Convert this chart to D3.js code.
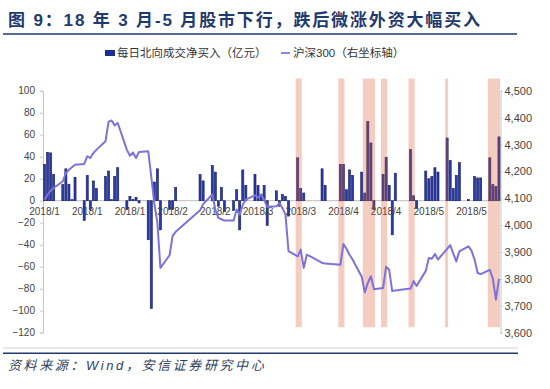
<!DOCTYPE html>
<html>
<head>
<meta charset="utf-8">
<script src="https://cdn.jsdelivr.net/npm/d3@7"></script>
<style>
body { margin: 0; background: #fff; }
svg { display: block; font-family: "Liberation Sans", "Noto Sans CJK SC", sans-serif; }
</style>
</head>
<body>
<svg id="chart" width="550" height="389"></svg>
<script>
// trading days (A-share), northbound net buy (亿元, null = connect closed), HS300 close
var dates = [
  "2018-01-02","2018-01-03","2018-01-04","2018-01-05","2018-01-08","2018-01-09","2018-01-10","2018-01-11","2018-01-12",
  "2018-01-15","2018-01-16","2018-01-17","2018-01-18","2018-01-19","2018-01-22","2018-01-23","2018-01-24","2018-01-25","2018-01-26",
  "2018-01-29","2018-01-30","2018-01-31","2018-02-01","2018-02-02","2018-02-05","2018-02-06","2018-02-07","2018-02-08","2018-02-09",
  "2018-02-12","2018-02-13","2018-02-14","2018-02-22","2018-02-23","2018-02-26","2018-02-27","2018-02-28","2018-03-01","2018-03-02",
  "2018-03-05","2018-03-06","2018-03-07","2018-03-08","2018-03-09","2018-03-12","2018-03-13","2018-03-14","2018-03-15","2018-03-16",
  "2018-03-19","2018-03-20","2018-03-21","2018-03-22","2018-03-23","2018-03-26","2018-03-27","2018-03-28","2018-03-29","2018-03-30",
  "2018-04-02","2018-04-03","2018-04-04","2018-04-09","2018-04-10","2018-04-11","2018-04-12","2018-04-13",
  "2018-04-16","2018-04-17","2018-04-18","2018-04-19","2018-04-20","2018-04-23","2018-04-24","2018-04-25","2018-04-26","2018-04-27",
  "2018-05-02","2018-05-03","2018-05-04","2018-05-07","2018-05-08","2018-05-09","2018-05-10","2018-05-11",
  "2018-05-14","2018-05-15","2018-05-16","2018-05-17","2018-05-18","2018-05-21","2018-05-22","2018-05-23","2018-05-24","2018-05-25",
  "2018-05-28","2018-05-29","2018-05-30","2018-05-31"
];
var northbound = [
  33, 44, 43.5, 23.7, 14.6, 29, 15, 1, 21.3,
  -18, 23, -8, 18, 11, 22, 27, 1, 22, 30,
  -8, 4, 1, 3, -2, -35.5, -98, 17, 29, -26.5,
  -8, -8, 12, 23.7, 18, 32, 26, -5, 12, -10,
  -9, 10, -26.5, 28, 14, 24, 14, 6, 14, -22.5,
  9, -5, 5.5, 4, -14, 39, 11, 7, 0, null,
  null, 29, 14, 33, 33, 10, 28, 23,
  26, 7, 72, 52.5, -8, 24, 39.5, 14, -31, 25,
  46.5, 4.5, -7, 27, 20, 22, 30, 26,
  57, 36.5, 11, 23, 34.6, 1, null, 22, 20.7, 20.7,
  39, 14.6, 13, 58
];
var hs300 = [
  4095, 4113, 4128, 4138, 4163, 4194, 4206, 4215, 4225,
  4227, 4256, 4250, 4268, 4280, 4312, 4385, 4389, 4371, 4380,
  4280, 4258, 4270, 4250, 4272, 4275, 4180, 4080, 4010, 3841,
  3888, 3960, 3975, 4055, 4078, 4114, 4058, 4027, 4022, 4017,
  4017, 4058, 4039, 4076, 4095, 4111, 4103, 4112, 4095, 4068,
  4070, 4082, 4064, 4039, 3903, 3884, 3909, 3841, 3890, 3885,
  3866, 3860, 3857, 3853, 3930, 3912, 3890, 3872,
  3808, 3750, 3785, 3810, 3762, 3766, 3845, 3834, 3755, 3757,
  3764, 3792, 3774, 3830, 3878, 3875, 3893, 3872,
  3912, 3926, 3895, 3865, 3902, 3921, 3905, 3872, 3822, 3818,
  3834, 3800, 3723, 3800
];
var tickDates = ["2018-01-02","2018-01-16","2018-01-30","2018-02-13","2018-02-27","2018-03-13",
                 "2018-03-27","2018-04-10","2018-04-24","2018-05-08","2018-05-22"];
var tickLabels = ["2018/1","2018/1","2018/1","2018/2","2018/2","2018/3","2018/3","2018/4","2018/4","2018/5","2018/5"];
var leftTicks = [100, 80, 60, 40, 20, 0, -20, -40, -60, -80, -100, -120];
var rightTicks = [4500, 4400, 4300, 4200, 4100, 4000, 3900, 3800, 3700, 3600];
var bandStarts = ["2018-03-26","2018-04-09","2018-04-17","2018-04-23","2018-05-02","2018-05-14","2018-05-28"];
var bandEnds   = ["2018-03-27","2018-04-10","2018-04-20","2018-04-24","2018-05-03","2018-05-14","2018-05-31"];

var parse = d3.timeParse("%Y-%m-%d");
var svg = d3.select("#chart");

var plotLeft = 43, plotRight = 500.5, plotTop = 90.7, plotBottom = 332.7;

var x = d3.scaleTime()
  .domain([parse("2018-01-02"), parse("2018-06-01")])
  .range([plotLeft, plotRight]);
var step = x(parse("2018-01-03")) - x(parse("2018-01-02"));
var yL = d3.scaleLinear().domain([-120, 100]).range([plotBottom, plotTop]);
var yR = d3.scaleLinear().domain([3600, 4500]).range([plotBottom, plotTop]);

var rows = dates.map(function(d, i) {
  return { date: parse(d), nb: northbound[i], hs: hs300[i] };
});

// title
svg.append("text")
  .attr("x", 8).attr("y", 20)
  .attr("dominant-baseline", "central")
  .attr("font-size", 17).attr("font-weight", "bold")
  .attr("letter-spacing", 1.85)
  .attr("fill", "#1f3a6e")
  .text("图 9：18 年 3 月-5 月股市下行，跌后微涨外资大幅买入");
svg.append("line")
  .attr("x1", 3).attr("x2", 517).attr("y1", 34).attr("y2", 34)
  .attr("stroke", "#1f3a6e").attr("stroke-width", 1.6);

// legend
svg.append("rect").attr("x", 105).attr("y", 50).attr("width", 10).attr("height", 6).attr("fill", "#1f2d91");
svg.append("text").attr("x", 117).attr("y", 53).attr("dominant-baseline", "central")
  .attr("font-size", 11.5).attr("fill", "#333").text("每日北向成交净买入（亿元）");
svg.append("line").attr("x1", 281).attr("x2", 290).attr("y1", 53).attr("y2", 53)
  .attr("stroke", "#8f86e0").attr("stroke-width", 2);
svg.append("text").attr("x", 293).attr("y", 53).attr("dominant-baseline", "central")
  .attr("font-size", 11.5).attr("fill", "#333").text("沪深300（右坐标轴）");

// axes
var axL = svg.append("g").attr("transform", "translate(" + plotLeft + ",0)")
  .call(d3.axisLeft(yL).tickValues(leftTicks).tickSize(3).tickPadding(5));
var axR = svg.append("g").attr("transform", "translate(" + plotRight + ",0)")
  .call(d3.axisRight(yR).tickValues(rightTicks).tickSize(2).tickPadding(2).tickFormat(d3.format(",")));
[axL, axR].forEach(function(g) {
  g.select(".domain").attr("stroke", "#c8c8c8");
  g.selectAll(".tick line").attr("stroke", "#c8c8c8");
  g.selectAll(".tick text").attr("fill", "#444").attr("font-family", "Liberation Sans, sans-serif");
});
axL.selectAll(".tick text").attr("font-size", 10);
axR.selectAll(".tick text").attr("font-size", 11);

// zero line
svg.append("line")
  .attr("x1", plotLeft).attr("x2", plotRight).attr("y1", yL(0)).attr("y2", yL(0))
  .attr("stroke", "#bdbdbd").attr("stroke-width", 1);

// bars
var bw = step * 0.68;
svg.append("g").selectAll("rect")
  .data(rows.filter(function(d) { return d.nb !== null && d.nb !== 0; }))
  .enter().append("rect")
  .attr("x", function(d) { return x(d.date) + (step - bw) / 2; })
  .attr("y", function(d) { return yL(Math.max(0, d.nb)); })
  .attr("width", bw)
  .attr("height", function(d) { return Math.abs(yL(d.nb) - yL(0)); })
  .attr("fill", "#2a3aa8")
  .attr("stroke", "#131d66")
  .attr("stroke-width", 0.6);

// x labels
svg.append("g").selectAll("text")
  .data(tickDates)
  .enter().append("text")
  .attr("x", function(d) { return x(parse(d)) + step / 2; })
  .attr("y", yL(0) + 11)
  .attr("text-anchor", "middle")
  .attr("dominant-baseline", "central")
  .attr("font-size", 10)
  .attr("fill", "#444")
  .text(function(d, i) { return tickLabels[i]; });

// shaded periods
svg.append("g").selectAll("rect")
  .data(bandStarts)
  .enter().append("rect")
  .attr("x", function(d) { return x(parse(d)) - 0.5; })
  .attr("width", function(d, i) { return x(parse(bandEnds[i])) - x(parse(d)) + step; })
  .attr("y", yL(111))
  .attr("height", yL(-115) - yL(111))
  .attr("fill", "rgb(218,85,45)")
  .attr("opacity", 0.3);

// HS300 line
var line = d3.line()
  .x(function(d) { return x(d.date) + step / 2; })
  .y(function(d) { return yR(d.hs); });
svg.append("path")
  .datum(rows)
  .attr("d", line)
  .attr("fill", "none")
  .attr("stroke", "#7d72da")
  .attr("stroke-width", 2)
  .attr("stroke-linejoin", "round");

// footer
svg.append("line")
  .attr("x1", 3).attr("x2", 518).attr("y1", 348).attr("y2", 348)
  .attr("stroke", "#d0d0d0").attr("stroke-width", 1);
svg.append("line")
  .attr("x1", 3).attr("x2", 518).attr("y1", 353.3).attr("y2", 353.3)
  .attr("stroke", "#1f3a6e").attr("stroke-width", 1.6);
svg.append("text")
  .attr("x", 8).attr("y", 365)
  .attr("dominant-baseline", "central")
  .attr("font-size", 13).attr("font-style", "italic")
  .attr("letter-spacing", 2.6)
  .attr("fill", "#2f3f5f")
  .text("资料来源：Wind，安信证券研究中心");
</script>
</body>
</html>
